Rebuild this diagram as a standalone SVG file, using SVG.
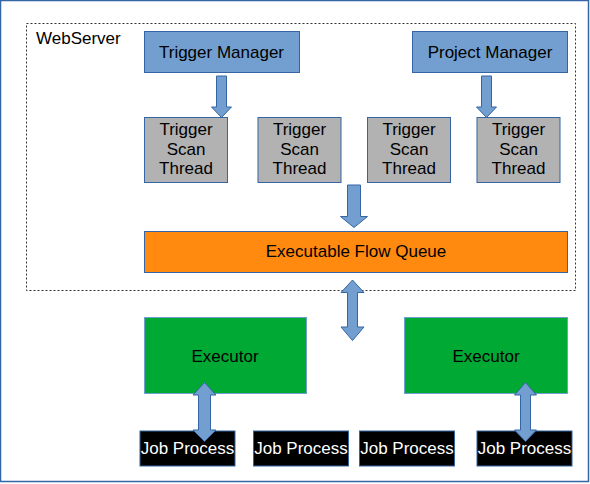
<svg xmlns="http://www.w3.org/2000/svg" width="590" height="484" viewBox="0 0 590 484">
<style>
text{font-family:"Liberation Sans",Arial,sans-serif;font-size:17px;fill:#000;text-anchor:middle}
.mgr{fill:#729fcf;stroke:#3465a4;stroke-width:1}
.thr{fill:#b2b2b2;stroke:#3465a4;stroke-width:1}
.q{fill:#ff8a0f;stroke:#3465a4;stroke-width:1}
.ex{fill:#00a933;stroke:#729fcf;stroke-width:1}
.jp{fill:#000;stroke:#3465a4;stroke-width:1}
.jpt{fill:#fff}
.arr{fill:#729fcf;stroke:#3465a4;stroke-width:1}
</style>
<rect x="0.5" y="0.5" width="588" height="481" fill="#fff" stroke="#3465a4" stroke-width="1.5"/>
<g id="webserver">
<rect x="26.5" y="23.5" width="549" height="267" fill="none" stroke="#333" stroke-width="1" stroke-dasharray="2,2"/>
<text x="36" y="43.5" style="text-anchor:start">WebServer</text>
</g>
<g id="trigger-manager"><rect class="mgr" x="144.5" y="31.5" width="155" height="41"/><text x="221.5" y="57.5">Trigger Manager</text></g>
<g id="project-manager"><rect class="mgr" x="412.5" y="31.5" width="155" height="41"/><text x="490" y="57.5">Project Manager</text></g>
<g id="thread1"><rect class="thr" x="144.5" y="117.5" width="83" height="65"/><text x="186" y="135">Trigger</text><text x="186" y="154.5">Scan</text><text x="186" y="174">Thread</text></g>
<g id="thread2"><rect class="thr" x="258" y="117.5" width="83" height="65"/><text x="299.5" y="135">Trigger</text><text x="299.5" y="154.5">Scan</text><text x="299.5" y="174">Thread</text></g>
<g id="thread3"><rect class="thr" x="367.5" y="117.5" width="83" height="65"/><text x="409" y="135">Trigger</text><text x="409" y="154.5">Scan</text><text x="409" y="174">Thread</text></g>
<g id="thread4"><rect class="thr" x="477" y="117.5" width="83" height="65"/><text x="518.5" y="135">Trigger</text><text x="518.5" y="154.5">Scan</text><text x="518.5" y="174">Thread</text></g>
<g id="queue"><rect class="q" x="144.5" y="231.5" width="423" height="41"/><text x="356" y="257">Executable Flow Queue</text></g>
<g id="executor1"><rect class="ex" x="144.5" y="317.5" width="162" height="76"/><text x="225" y="361.5">Executor</text></g>
<g id="executor2"><rect class="ex" x="404.5" y="317.5" width="163" height="76"/><text x="486" y="361.5">Executor</text></g>
<g id="job1"><rect class="jp" x="140" y="431" width="95" height="35"/><text class="jpt" x="187.5" y="454">Job Process</text></g>
<g id="job2"><rect class="jp" x="253.5" y="431" width="95" height="35"/><text class="jpt" x="301" y="454">Job Process</text></g>
<g id="job3"><rect class="jp" x="359.5" y="431" width="95" height="35"/><text class="jpt" x="407" y="454">Job Process</text></g>
<g id="job4"><rect class="jp" x="477" y="431" width="95" height="35"/><text class="jpt" x="524.5" y="454">Job Process</text></g>
<g id="connectors">
<polygon class="arr" points="216.5,76 226.5,76 226.5,107 231.5,107 221.5,117.5 211.5,107 216.5,107"/>
<polygon class="arr" points="481.5,76 491.5,76 491.5,107 496.5,107 486.5,117.5 476.5,107 481.5,107"/>
<polygon class="arr" points="347.5,185 360.5,185 360.5,216.5 367.5,216.5 354,227.5 340.5,216.5 347.5,216.5"/>
<polygon class="arr" points="352.5,280 364,292.5 357.5,292.5 357.5,327 364,327 352.5,340.5 341,327 347.5,327 347.5,292.5 341,292.5"/>
<polygon class="arr" points="204.5,382.5 216,395 210.5,395 210.5,430 216,430 204.5,441.5 193,430 198.5,430 198.5,395 193,395"/>
<polygon class="arr" points="525.5,382.5 536.5,395 530.5,395 530.5,430 536.5,430 525.5,441.5 514.5,430 520.5,430 520.5,395 514.5,395"/>
</g>
</svg>
